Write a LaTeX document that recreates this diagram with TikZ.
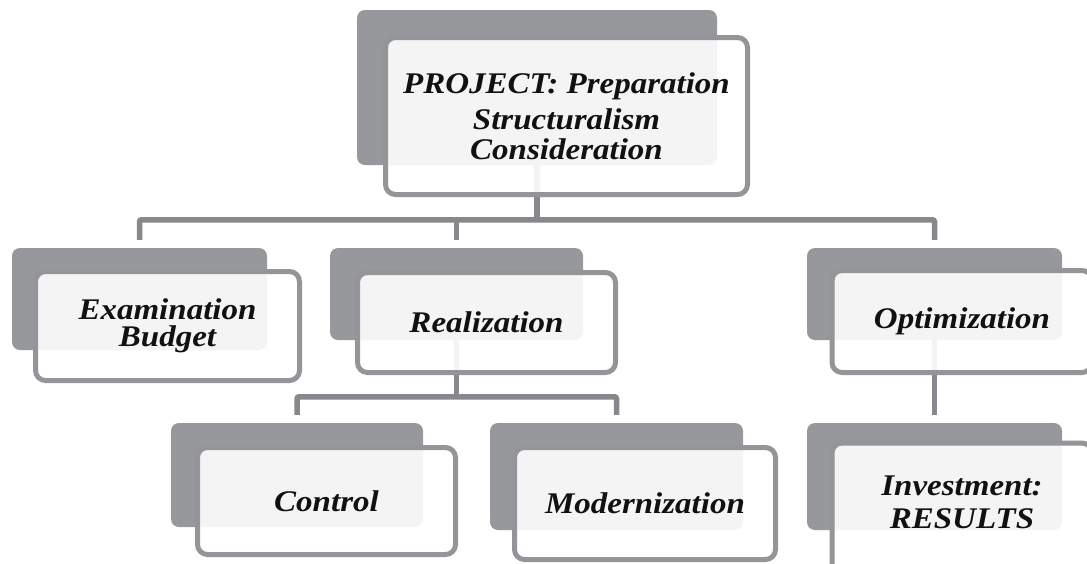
\documentclass[tikz,border=0pt]{standalone}
\usepackage{fontspec}
\setmainfont{Liberation Serif}[FakeStretch=1.1]
\definecolor{darkfill}{HTML}{97989B}
\definecolor{outline}{HTML}{939598}
\definecolor{connc}{HTML}{87888B}
\definecolor{txt}{HTML}{111111}
\tikzset{
  darkbox/.style={fill=darkfill, draw=none, rounded corners=8pt, inner sep=0pt},
  frontbox/.style={fill=white, fill opacity=0.9, text opacity=1, draw=outline, draw opacity=1,
    line width=5pt, rounded corners=10pt, inner sep=0pt, align=center, text=txt,
    font=\fontsize{30}{30}\selectfont\bfseries\itshape},
  conn/.style={draw=connc, line width=5.5pt, rounded corners=2pt}
}
\begin{document}
\begin{tikzpicture}[x=1pt,y=-1pt]
\clip (0,0) rectangle (1087,563);
\fill[white] (0,0) rectangle (1087,563);
% back (dark) boxes
\node[darkbox, minimum width=360pt, minimum height=155pt] (d0) at (537,87.5) {};
\node[darkbox, minimum width=255pt, minimum height=102pt] (d1) at (139.5,299) {};
\node[darkbox, minimum width=253pt, minimum height=92pt] (d2) at (456.5,294) {};
\node[darkbox, minimum width=255pt, minimum height=92pt] (d3) at (934.5,294) {};
\node[darkbox, minimum width=252pt, minimum height=104pt] (d4) at (297,475) {};
\node[darkbox, minimum width=253pt, minimum height=107pt] (d5) at (616.5,476.5) {};
\node[darkbox, minimum width=255pt, minimum height=107pt] (d6) at (934.5,476.5) {};
% connectors
\draw[conn] (d0.south) -- ++(0,55);
\draw[conn] ([yshift=8pt]d1.north) -- ++(0,-20) -| ([yshift=8pt]d3.north);
\draw[conn] ([yshift=8pt]d2.north) -- ++(0,-20);
\draw[conn] (d2.south) -- ++(0,57);
\draw[conn] ([yshift=8pt]d4.north) -- ++(0,-18) -| ([yshift=8pt]d5.north);
\draw[conn] (d3.south) -- ([yshift=8pt]d6.north);
% front boxes
\node[frontbox, minimum width=362pt, minimum height=157pt] (f0) at (566.5,116)
  {PROJECT: Preparation\\[6pt]Structuralism\\Consideration};
\node[frontbox, minimum width=264pt, minimum height=109pt] (f1) at (167.5,326)
  {Examination\\[-3pt]Budget};
\node[frontbox, minimum width=258pt, minimum height=100pt] (f2) at (486.5,322.5)
  {Realization};
\node[frontbox, minimum width=260pt, minimum height=102pt] (f3) at (962,321.5)
  {Optimization};
\node[frontbox, minimum width=258pt, minimum height=107pt] (f4) at (326.5,501)
  {Control};
\node[frontbox, minimum width=261pt, minimum height=112pt] (f5) at (645,503.5)
  {Modernization};
\node[frontbox, minimum width=260pt, minimum height=136pt, text depth=0pt] (f6) at (962,511)
  {Investment:\\[3pt]RESULTS\\[-12pt]\mbox{}};
\end{tikzpicture}
\end{document}
